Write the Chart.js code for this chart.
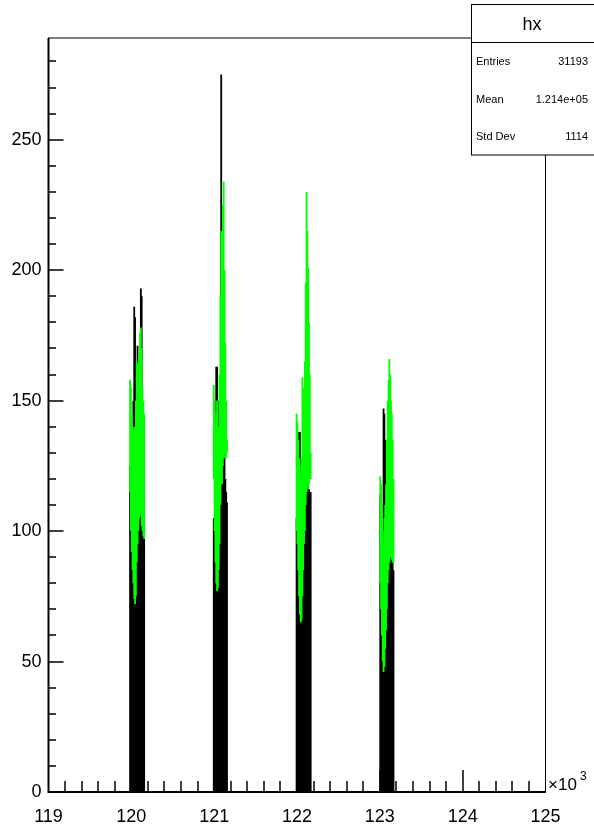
<!DOCTYPE html>
<html>
<head>
<meta charset="utf-8">
<script src="https://cdn.jsdelivr.net/npm/chart.js@4.4.0/dist/chart.umd.min.js"></script>
<style>
  html, body { margin: 0; padding: 0; background: #fff; }
</style>
</head>
<body>
<canvas id="c" width="594" height="828"></canvas>
<script>
// histogram hx, bins of width 10, four clusters of filled bins
const binWidth = 10;
const clusterStarts = [119980, 120990, 121990, 123000];

// black histogram contents
const black120 = [125, 118, 130, 110, 150, 186, 182, 140, 150, 171, 160, 135, 150, 193, 190, 108, 100, 98];
const black121 = [105, 103, 110, 163, 163, 150, 140, 125, 160, 275, 200, 150, 145, 128, 120, 115, 111];
const black122 = [105, 108, 120, 138, 138, 110, 100, 120, 118, 130, 140, 147, 150, 145, 116, 116, 115, 115];
const black123 = [114, 112, 100, 95, 147, 145, 135, 130, 128, 110, 105, 100, 98, 95, 92, 88, 85];

// green overlay, low / high per bin
const greenLo120 = [115, 100, 92, 85, 80, 74, 72, 75, 88, 95, 100, 105, 108, 106, 102, 100, 98, 97];
const greenHi120 = [158, 155, 145, 140, 138, 140, 135, 150, 165, 164, 160, 168, 176, 178, 170, 155, 150, 145];
const greenLo121 = [120, 100, 88, 80, 77, 78, 85, 95, 110, 120, 118, 125, 128, 130, 128, 128, 130];
const greenHi121 = [156, 150, 140, 145, 150, 135, 140, 160, 190, 215, 205, 225, 234, 200, 172, 150, 135];
const greenLo122 = [100, 95, 85, 75, 68, 65, 66, 75, 85, 95, 100, 110, 115, 118, 116, 118, 120, 120];
const greenHi122 = [145, 142, 135, 128, 125, 120, 128, 159, 150, 155, 165, 195, 230, 215, 201, 180, 160, 130];
const greenLo123 = [80, 70, 60, 50, 46, 48, 55, 62, 70, 80, 85, 88, 90, 90, 89, 88, 88];
const greenHi123 = [121, 118, 110, 100, 95, 105, 110, 118, 135, 150, 158, 166, 160, 150, 145, 135, 120];

// stats box
const statNames = ['Entries', 'Mean', 'Std Dev'];
const statValues = ['31193', '1.214e+05', '1114'];

const blackSets = [black120, black121, black122, black123];
const greenLoSets = [greenLo120, greenLo121, greenLo122, greenLo123];
const greenHiSets = [greenHi120, greenHi121, greenHi122, greenHi123];

let blackPoints = [];
let greenPoints = [];
clusterStarts.forEach((start, k) => {
    blackSets[k].forEach((v, i) => blackPoints.push({ x: start + binWidth * (i + 0.5), y: v }));
    greenLoSets[k].forEach((v, i) => greenPoints.push({ x: start + binWidth * (i + 0.5), y: [v, greenHiSets[k][i]] }));
});

const FONT = 'Liberation Sans, Arial, Helvetica, sans-serif';

// ROOT style frame, inner ticks, exponent and stats box
const rootFrame = {
    id: 'rootFrame',
    afterDraw(chart) {
        const { ctx, chartArea: a, scales: { x, y } } = chart;
        ctx.save();
        ctx.strokeStyle = '#000';
        ctx.lineWidth = 1;
        ctx.strokeRect(a.left, a.top, a.right - a.left, a.bottom - a.top);

        // axis lines a bit heavier, like ROOT
        ctx.lineWidth = 2;
        ctx.beginPath();
        ctx.moveTo(a.left, a.top);
        ctx.lineTo(a.left, a.bottom);
        ctx.lineTo(a.right, a.bottom);
        ctx.stroke();

        ctx.lineWidth = 1.5;
        ctx.beginPath();
        for (let v = x.min + 200; v < x.max; v += 200) {
            const px = Math.round(x.getPixelForValue(v));
            const len = v % 1000 === 0 ? 22 : 11;
            ctx.moveTo(px, a.bottom);
            ctx.lineTo(px, a.bottom - len);
        }
        for (let v = 10; v <= y.max; v += 10) {
            const py = Math.round(y.getPixelForValue(v));
            const len = v % 50 === 0 ? 15 : 7.5;
            ctx.moveTo(a.left, py);
            ctx.lineTo(a.left + len, py);
        }
        ctx.stroke();

        // x10^3
        ctx.fillStyle = '#000';
        ctx.textBaseline = 'alphabetic';
        ctx.textAlign = 'left';
        ctx.font = '17px ' + FONT;
        ctx.fillText('\u00d710', 548, 790);
        ctx.font = '12px ' + FONT;
        ctx.fillText('3', 580, 780);

        // stats box
        ctx.lineWidth = 1;
        const bx = 471.5, by = 4.5, bw = 130, bh = 150.5;
        ctx.fillStyle = '#fff';
        ctx.fillRect(bx, by, bw, bh);
        ctx.strokeRect(bx, by, bw, bh);
        ctx.beginPath();
        ctx.moveTo(bx, 42.5);
        ctx.lineTo(594, 42.5);
        ctx.stroke();
        ctx.fillStyle = '#000';
        ctx.textAlign = 'center';
        ctx.textBaseline = 'middle';
        ctx.font = '18px ' + FONT;
        ctx.fillText('hx', 532, 25);
        ctx.font = '11px ' + FONT;
        const rowY = [62, 100, 137];
        statNames.forEach((n, i) => {
            ctx.textAlign = 'left';
            ctx.fillText(n, 476, rowY[i]);
            ctx.textAlign = 'right';
            ctx.fillText(statValues[i], 588, rowY[i]);
        });
        ctx.restore();
    }
};

new Chart(document.getElementById('c'), {
    type: 'bar',
    data: {
        datasets: [
            { data: greenPoints, backgroundColor: '#00ff00', grouped: false, order: 0, barPercentage: 2.2, categoryPercentage: 1 },
            { data: blackPoints, backgroundColor: '#000000', grouped: false, order: 1, barPercentage: 2.2, categoryPercentage: 1 }
        ]
    },
    options: {
        responsive: false,
        animation: false,
        layout: { padding: { left: 0, right: 48.5, top: 38, bottom: 0 } },
        plugins: { legend: { display: false }, tooltip: { enabled: false } },
        scales: {
            x: {
                type: 'linear',
                min: 119000,
                max: 125000,
                offset: false,
                grid: { display: false, drawTicks: false },
                border: { display: false },
                ticks: {
                    stepSize: 1000,
                    padding: 14,
                    autoSkip: false,
                    maxRotation: 0,
                    color: '#000',
                    font: { family: FONT, size: 18 },
                    callback: v => v / 1000
                },
                afterFit: s => { s.height = 36; }
            },
            y: {
                min: 0,
                max: 289,
                grid: { display: false, drawTicks: false },
                border: { display: false },
                ticks: {
                    stepSize: 50,
                    padding: 7,
                    color: '#000',
                    font: { family: FONT, size: 18 }
                },
                afterBuildTicks: s => { s.ticks = s.ticks.filter(t => t.value % 50 === 0); },
                afterFit: s => { s.width = 48.5; }
            }
        }
    },
    plugins: [rootFrame]
});
</script>
</body>
</html>
